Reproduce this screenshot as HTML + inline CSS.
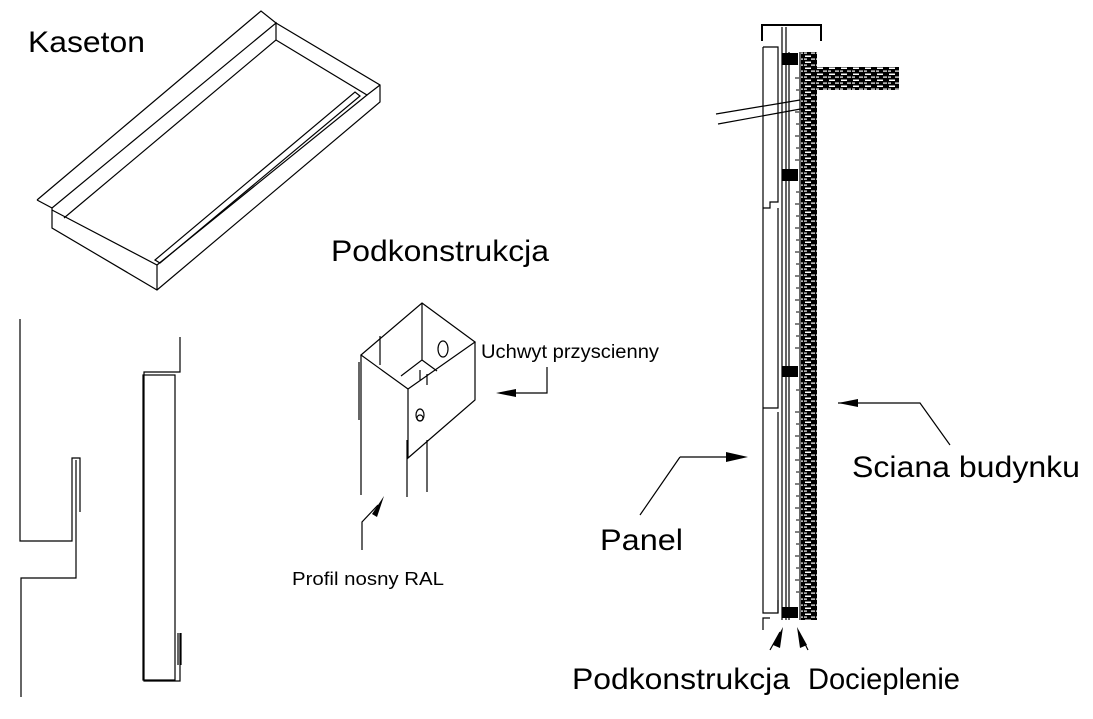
<!DOCTYPE html>
<html><head><meta charset="utf-8"><style>
html,body{margin:0;padding:0;background:#fff}
svg{display:block}
text{font-family:"Liberation Sans",sans-serif;fill:#000}
</style></head><body>
<svg width="1093" height="719" viewBox="0 0 1093 719" xmlns="http://www.w3.org/2000/svg">
<defs>
<pattern id="brick" width="12" height="6" patternUnits="userSpaceOnUse">
<rect width="12" height="6" fill="#000"/>
<rect x="1" y="1.5" width="6" height="1.5" fill="#fff"/>
<rect x="7" y="4.5" width="4" height="1.2" fill="#fff"/>
<rect x="0" y="4.5" width="3" height="1.2" fill="#fff"/>
</pattern>
</defs>
<g fill="none" stroke="#000" stroke-width="1.2">
<path d="M37,200 L261,11 L276,23 L380,85 L380,102 L157,290 L52,228 L52,208 L37,200"/>
<path d="M52,208 L276,23 L276,40 L64,218"/>
<path d="M276,40 L367,95 L380,85"/>
<path d="M52,210 L157,265 L367,95"/>
<path d="M157,265 L157,290"/>
<path d="M155,260 L355,92 L360,96 L160,263 Z"/>
<path d="M20,319 L20,541 L72,541 L72,458 L80,458 L80,512"/>
<path d="M76,460 L76,578 L21,578 L21,697"/>
<path d="M180,337 L180,372 L144,372 L144,681 L180,681 L180,633"/>
<rect x="143" y="375" width="32" height="305"/>
<path d="M178,633 L178,665 M181,633 L181,665"/>
<path d="M422,303 L475,342 L408,389 L361,355 Z"/>
<path d="M408,389 L408,458 L475,400 L475,342"/>
<path d="M422,303 L422,360 L401,376 M422,360 L437,371"/>
<path d="M380,336 L380,365 M427,374 L427,385 M420,370 L420,380"/>
<ellipse cx="443" cy="349" rx="5" ry="8"/>
<ellipse cx="420" cy="415" rx="4" ry="6"/>
<circle cx="420" cy="418" r="3"/>
<path d="M361,355 L361,495 M359,362 L359,420 M407,440 L407,497 M427,440 L427,492"/>
<path d="M547,367 L547,393 L500,393"/>
<path d="M362,550 L362,522 L378,505"/>
<path d="M762,41 L762,25 L821,25 L821,41" stroke-width="2"/>
<path d="M763,47 L778,47 L778,202 L770,202 L770,208 L763,208 M763,47 L763,613 L778,613 L778,600"/>
<path d="M778,412 L778,613 M778,208 L778,408 L763,408"/>
<path d="M770,618 L763,618 L763,630"/>
<path d="M782,27 L782,620 M786,27 L786,620 M789,52 L789,620 M800,52 L800,620"/>
<path d="M716,114 L800,100 M718,124 L806,108"/>
<path d="M838,403 L920,403 L950,445"/>
<path d="M680,457 L740,457 M680,457 L640,515"/>
<path d="M770,650 L780,632 M808,650 L799,632"/>
</g>
<g stroke="#000" stroke-width="1">
<path d="M795,78 h4 M796,90 h3 M795,112 h4 M796,124 h3 M795,136 h4 M796,148 h3 M795,160 h4 M796,192 h3 M795,204 h4 M796,216 h3 M795,228 h4 M796,240 h3 M795,252 h4 M796,264 h3 M795,276 h4 M796,288 h3 M795,300 h4 M796,312 h3 M795,324 h4 M796,336 h3 M795,348 h4 M796,390 h3 M795,412 h4 M796,424 h3 M795,436 h4 M796,448 h3 M795,460 h4 M796,472 h3 M795,484 h4 M796,496 h3 M795,508 h4 M796,520 h3 M795,532 h4 M796,544 h3 M795,556 h4 M796,568 h3 M795,580 h4 M796,592 h3"/>
</g>
<rect x="801" y="52" width="16" height="568" fill="url(#brick)"/>
<rect x="817" y="67" width="82" height="23" fill="url(#brick)"/>
<g fill="#000">
<rect x="782" y="53" width="16" height="12"/>
<rect x="782" y="169" width="16" height="12"/>
<rect x="782" y="366" width="16" height="11"/>
<rect x="782" y="607" width="16" height="11"/>
<path d="M838,403 L858,399 L858,407 Z"/>
<path d="M748,457 L726,452 L726,462 Z"/>
<path d="M496,393 L516,389 L516,397 Z"/>
<path d="M384,496 L372,514 L377,517 Z"/>
<path d="M783,627 L773,645 L780,648 Z"/>
<path d="M797,627 L800,648 L807,645 Z"/>
</g>
<text x="28" y="52" font-size="30" textLength="117" lengthAdjust="spacingAndGlyphs">Kaseton</text>
<text x="331" y="261" font-size="30" textLength="218" lengthAdjust="spacingAndGlyphs">Podkonstrukcja</text>
<text x="481" y="358" font-size="19" textLength="178" lengthAdjust="spacingAndGlyphs">Uchwyt przyscienny</text>
<text x="292" y="585" font-size="18" textLength="152" lengthAdjust="spacingAndGlyphs">Profil nosny RAL</text>
<text x="852" y="477" font-size="30" textLength="228" lengthAdjust="spacingAndGlyphs">Sciana budynku</text>
<text x="600" y="550" font-size="30" textLength="83" lengthAdjust="spacingAndGlyphs">Panel</text>
<text x="572" y="689" font-size="30" textLength="218" lengthAdjust="spacingAndGlyphs">Podkonstrukcja</text>
<text x="808" y="689" font-size="30" textLength="152" lengthAdjust="spacingAndGlyphs">Docieplenie</text>
</svg>
</body></html>
